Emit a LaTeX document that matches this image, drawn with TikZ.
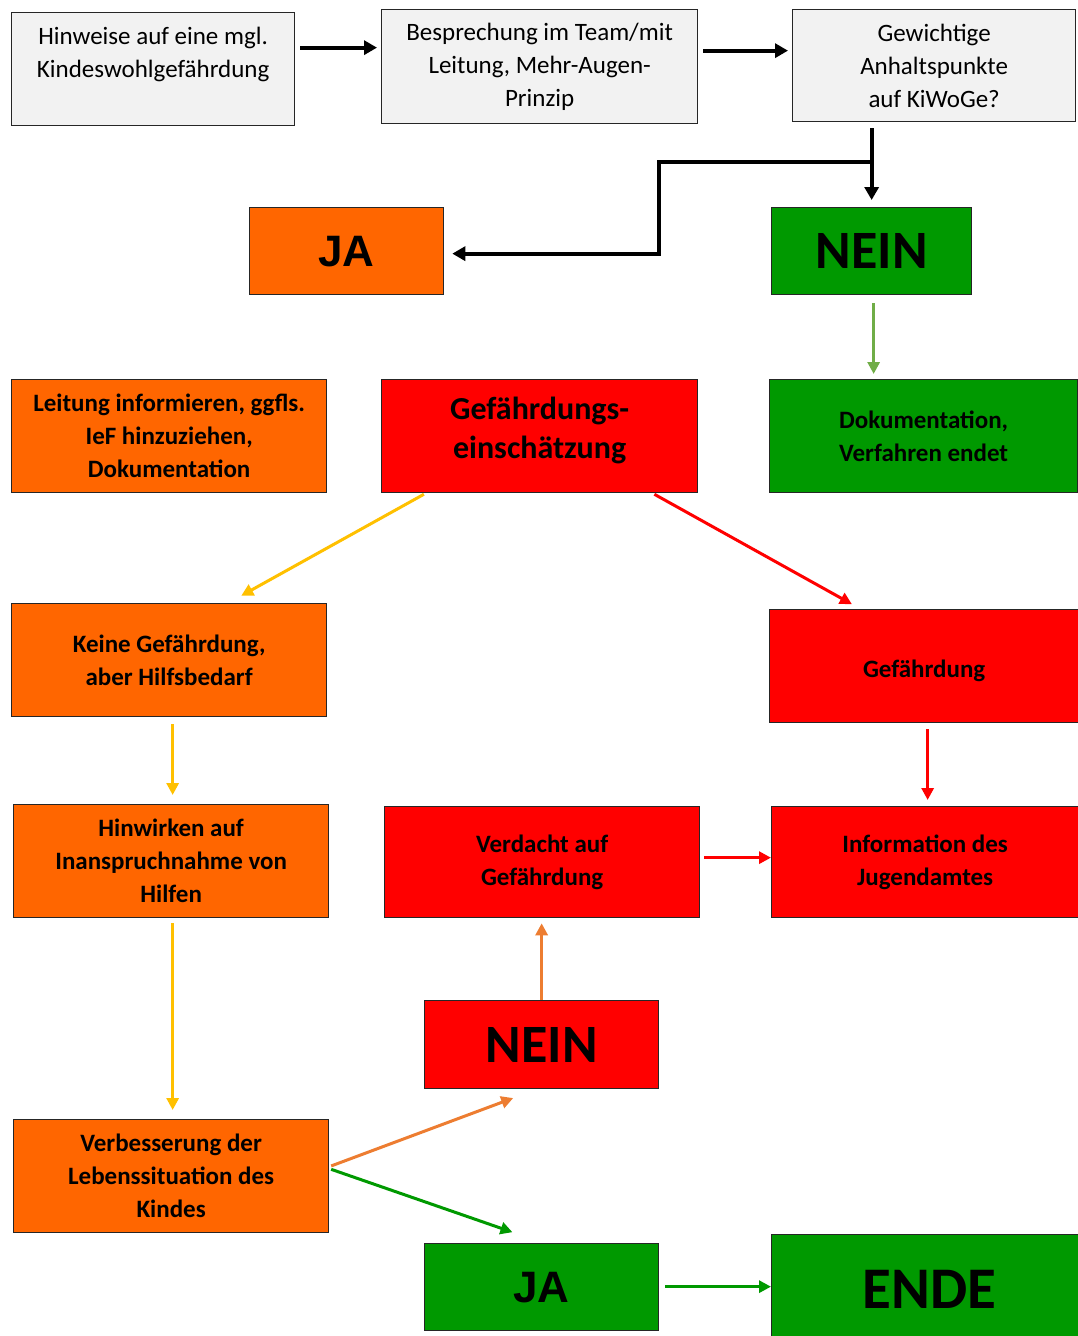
\documentclass[tikz,border=0pt]{standalone}
\usepackage{fontspec}
\setmainfont{Carlito}
\newfontfamily\arialfont{Liberation Sans}
\usetikzlibrary{arrows.meta}
\definecolor{boxgray}{HTML}{F2F2F2}
\definecolor{boxorange}{HTML}{FF6600}
\definecolor{boxred}{HTML}{FF0000}
\definecolor{boxgreen}{HTML}{009900}
\definecolor{arrlightgreen}{HTML}{70AD47}
\definecolor{arryellow}{HTML}{FFC000}
\definecolor{arrorange}{HTML}{ED7D31}
\definecolor{arrred}{HTML}{FF0000}
\definecolor{arrgreen}{HTML}{009900}
\begin{document}
\begin{tikzpicture}[x=1pt,y=-1pt,
  box/.style={draw=black!85, line width=1.3pt, anchor=north west, inner sep=0pt, align=center},
  normaltext/.style={font=\fontsize{25}{33}\selectfont},
  boldtext/.style={font=\fontsize{25}{33}\selectfont\bfseries},
  bigtext/.style={font=\fontsize{54}{60}\selectfont\bfseries},
  jatext/.style={font=\fontsize{44}{50}\selectfont\arialfont\bfseries},
  blkarrow/.style={draw=black, line width=4pt, -{Triangle[length=13pt,width=14pt]}},
  colarrow/.style={line width=3pt, -{Triangle[length=12pt,width=12pt]}}
]
\useasboundingbox (0,0) rectangle (1078,1336);

% row 1
\node[box, normaltext, fill=boxgray, minimum width=283pt, minimum height=113pt] (hinweise) at (11,12)
  {Hinweise auf eine mgl.\\Kindeswohlgefährdung\\\mbox{}};
\node[box, normaltext, fill=boxgray, minimum width=316pt, minimum height=114pt] (bespr) at (381,9)
  {Besprechung im Team/mit\\Leitung, Mehr-Augen-\\Prinzip};
\node[box, normaltext, fill=boxgray, minimum width=283pt, minimum height=112pt] (gewicht) at (792,9)
  {\fontsize{25}{31}\selectfont Gewichtige\\Anhaltspunkte\\auf KiWoGe?};

% row 2
\node[box, jatext, fill=boxorange, minimum width=194pt, minimum height=87pt] (ja1) at (249,207)
  {JA};
\node[box, bigtext, fill=boxgreen, minimum width=200pt, minimum height=87pt] (nein1) at (771,207)
  {NEIN};

% row 3
\node[box, boldtext, fill=boxorange, minimum width=315pt, minimum height=113pt] (leitung) at (11,379)
  {\fontsize{25}{34.5}\selectfont Leitung informieren, ggfls.\\IeF hinzuziehen,\\Dokumentation};
\node[box, font=\fontsize{32}{39}\selectfont\bfseries, fill=boxred, minimum width=316pt, minimum height=113pt] (einsch) at (381,379)
  {Gefährdungs-\\einschätzung\\[-23pt]\mbox{}};
\node[box, boldtext, fill=boxgreen, minimum width=308pt, minimum height=113pt] (doku) at (769,379)
  {\fontsize{25}{31}\selectfont Dokumentation,\\Verfahren endet};

% row 4
\node[box, boldtext, fill=boxorange, minimum width=315pt, minimum height=113pt] (keine) at (11,603)
  {\fontsize{25}{30}\selectfont Keine Gefährdung,\\aber Hilfsbedarf};
\node[box, boldtext, fill=boxred, minimum width=309pt, minimum height=113pt, align=none, text height=27pt, text depth=5pt] (gef) at (769,609)
  {Gefährdung};

% row 5
\node[box, boldtext, fill=boxorange, minimum width=315pt, minimum height=113pt] (hinwirken) at (13,804)
  {\fontsize{25}{33.5}\selectfont Hinwirken auf\\Inanspruchnahme von\\Hilfen};
\node[box, boldtext, fill=boxred, minimum width=315pt, minimum height=111pt] (verdacht) at (384,806)
  {\fontsize{25}{31}\selectfont Verdacht auf\\Gefährdung};
\node[box, boldtext, fill=boxred, minimum width=307pt, minimum height=111pt] (info) at (771,806)
  {\fontsize{25}{31}\selectfont Information des\\Jugendamtes};

% row 6
\node[box, bigtext, fill=boxred, minimum width=234pt, minimum height=88pt] (nein2) at (424,1000)
  {NEIN};
\node[box, boldtext, fill=boxorange, minimum width=315pt, minimum height=113pt] (verb) at (13,1119)
  {\fontsize{25}{33.5}\selectfont Verbesserung der\\Lebenssituation des\\Kindes};

% row 7
\node[box, jatext, fill=boxgreen, minimum width=234pt, minimum height=87pt] (ja2) at (424,1243)
  {JA};
\node[box, font=\fontsize{59}{60}\selectfont\bfseries, fill=boxgreen, minimum width=320pt, minimum height=110pt] (ende) at (771,1234)
  {ENDE\hspace*{5pt}};

% connectors, black
\draw[blkarrow, shorten <=5pt, shorten >=4pt] ([yshift=21.5pt]hinweise.east) -- ([yshift=21.5pt]hinweise.east -| bespr.west);
\draw[blkarrow, shorten <=5pt, shorten >=4pt] ([yshift=16pt]bespr.east) -- ([yshift=16pt]bespr.east -| gewicht.west);
\draw[blkarrow, shorten <=6pt, shorten >=7pt] (nein1.north |- gewicht.south) -- (nein1.north);
\coordinate (branch) at (872,162);
\coordinate (bend) at (659,162);
\draw[blkarrow, shorten >=8pt] (branch) -- (bend) |- ([yshift=-2.5pt]ja1.east);

% coloured connectors
\draw[colarrow, draw=arrlightgreen, shorten <=8pt, shorten >=5pt] ([xshift=2pt]nein1.south) -- ([xshift=2pt]nein1.south |- doku.north);
\draw[colarrow, draw=arryellow, shorten <=2pt, shorten >=15pt] ([xshift=-114pt]einsch.south) -- ([xshift=59pt]keine.north);
\draw[colarrow, draw=arrred, shorten <=2pt, shorten >=10pt] ([xshift=113pt]einsch.south) -- ([xshift=-63.5pt]gef.north);
\coordinate (ky) at ([xshift=3.5pt]keine.south);
\draw[colarrow, draw=arryellow, shorten <=7pt, shorten >=9pt] (ky) -- (ky |- hinwirken.north);
\coordinate (gr) at ([xshift=3.5pt]gef.south);
\draw[colarrow, draw=arrred, shorten <=6pt, shorten >=6pt] (gr) -- (gr |- info.north);
\draw[colarrow, draw=arrred, shorten <=4pt] ([yshift=4.5pt]verdacht.east) -- ([yshift=4.5pt]verdacht.east -| info.west);
\coordinate (hy) at ([xshift=1.5pt]hinwirken.south);
\draw[colarrow, draw=arryellow, shorten <=5pt, shorten >=9pt] (hy) -- (hy |- verb.north);
\draw[colarrow, draw=arrorange, shorten >=5pt] (nein2.north) -- (nein2.north |- verdacht.south);
\draw[colarrow, draw=arrorange, shorten <=2pt, shorten >=25pt] ([yshift=9.5pt]verb.east) -- ([xshift=-5pt]nein2.south);
\draw[colarrow, draw=arrgreen, shorten <=2pt, shorten >=33pt] ([yshift=7.5pt]verb.east) -- ([xshift=2pt]ja2.north);
\draw[colarrow, draw=arrgreen, shorten <=6pt] ([yshift=0.5pt]ja2.east) -- ([yshift=0.5pt]ja2.east -| ende.west);
\end{tikzpicture}
\end{document}
